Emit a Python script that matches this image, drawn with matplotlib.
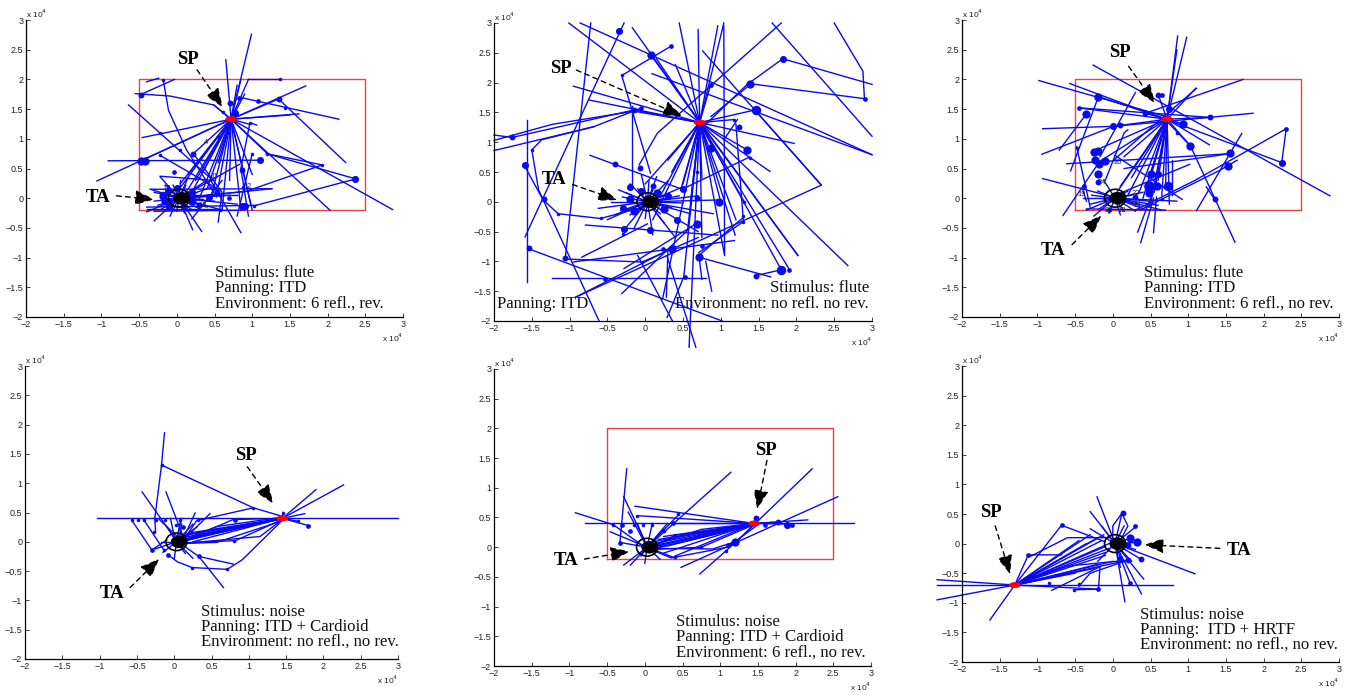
import matplotlib
matplotlib.use('Agg')
import matplotlib.pyplot as plt
from matplotlib.patches import Ellipse

plt.rcParams['font.family'] = ['Liberation Sans', 'DejaVu Sans']

# all coordinates in units of 10^4
tick_vals = [-2, -1.5, -1, -0.5, 0, 0.5, 1, 1.5, 2, 2.5, 3]
tick_labels = ['\u22122', '\u22121.5', '\u22121', '\u22120.5', '0', '0.5', '1', '1.5', '2', '2.5', '3']
room_x = [-0.5, 2.5, 2.5, -0.5, -0.5]
room_y = [-0.2, -0.2, 2.0, 2.0, -0.2]

# panel 1: flute, ITD, 6 refl., rev.
p1_sp = (0.72, 1.33)
p1_sp_rays = [(0.99, 2.76), (0.65, 2.33), (0.95, 2.0), (0.85, 2.0), (0.8, 1.9), (1.71, 1.89), (1.35, 1.67),
              (2.86, -0.19), (2.03, -0.2), (-1.06, 0.29), (-0.46, 1.02), (0.49, 1.57), (0.0, 0.1), (0.05, 0.25),
              (0.1, 0.05), (0.15, 0.4), (0.2, 0.1), (0.25, 0.3), (0.3, 0.0), (0.35, 0.45), (0.4, 0.15), (0.45, 0.0),
              (0.55, 0.2), (0.6, -0.2), (0.7, 0.3), (0.85, -0.2), (0.98, -0.1), (0.55, 0.6), (1.0, 0.4), (1.0, -0.2),
              (0.95, 1.25), (1.5, 1.4), (1.62, 1.42), (1.2, 0.75), (0.22, 0.75), (-0.47, 0.63), (0.9, 1.75)]
p1_ta_rays = [(1.26, 0.16), (0.83, 0.57), (-0.3, -0.38), (0.21, -0.53), (0.33, -0.56), (-0.4, -0.23), (-0.22, 0.36),
              (-0.35, 0.15), (-0.09, -0.3), (0.1, -0.25), (0.6, -0.2), (0.5, 0.2), (0.4, 0.3), (-0.2, -0.18),
              (-0.15, 0.22), (0.05, 0.3), (0.7, 0.05), (0.95, 0.12), (-0.1, 0.14), (0.25, 0.18), (0.5, -0.05),
              (-0.25, -0.12), (0.3, -0.18), (0.15, 0.35), (0.8, -0.1), (-0.18, 0.1), (-0.2, 0.0), (-0.18, -0.08),
              (-0.12, -0.2), (0.0, -0.22), (0.2, -0.2), (0.25, 0.08), (0.35, -0.02), (0.12, 0.22), (-0.05, 0.22),
              (-0.3, 0.1), (-0.3, -0.05), (0.4, -0.15), (0.55, 0.05)]
p1_paths = [[(-0.91, 0.63), (1.1, 0.64)], [(-0.64, 1.57), (0.48, 0.3)], [(0.45, 0.3), (0.85, -0.58)],
            [(-0.55, 1.76), (-0.09, 1.72), (0.49, 1.57), (0.72, 1.33)], [(-0.4, 1.96), (-0.24, 2.02)],
            [(-0.03, 2.0), (-0.49, 1.74)], [(-0.18, 1.99), (-0.11, 1.48), (0.13, 0.81), (0.53, 0.02)],
            [(1.02, -0.13), (2.36, 0.32)], [(1.93, 0.56), (1.19, 0.75)], [(1.93, 0.56), (0.95, 0.13)],
            [(2.36, 0.33), (1.19, 0.75)], [(0.95, 2.0), (1.38, 2.0)], [(1.44, 1.53), (2.15, 1.33)],
            [(0.83, 1.7), (1.44, 1.53)], [(1.35, 1.67), (2.24, 0.6)], [(0.97, 1.27), (1.06, 1.23)],
            [(0.97, 1.27), (0.85, 0.5), (0.95, -0.3)], [(0.22, 0.75), (0.6, 0.1), (0.55, -0.4)],
            [(-0.22, 0.72), (0.55, 0.15)], [(1.0, 0.75), (0.8, -0.3)], [(0.2, -0.35), (0.6, 0.3)],
            [(-0.22, 0.37), (0.49, 0.3)], [(-0.35, 0.15), (1.26, 0.16)], [(-0.4, -0.15), (1.06, -0.12)],
            [(-0.4, -0.18), (0.6, -0.18)], [(-0.3, -0.22), (0.9, -0.2)], [(-0.2, 0.05), (0.8, 0.05)]]
p1_dots = [(-0.47, 0.63, 7), (-0.42, 0.63, 7), (1.1, 0.64, 6), (2.36, 0.33, 6), (1.35, 1.67, 5), (1.08, 1.63, 4),
           (0.71, 1.61, 5), (0.82, 1.68, 4), (0.77, 1.44, 6), (-0.47, 1.74, 5), (-0.18, 1.99, 3), (-0.22, 1.1, 3),
           (0.22, 0.75, 5), (0.87, 0.48, 5), (1.93, 0.56, 3), (1.37, 2.0, 3), (1.19, 0.74, 3), (1.44, 1.52, 3),
           (0.97, 1.27, 3), (0.55, 1.03, 3), (0.86, -0.13, 6), (0.91, -0.13, 6), (1.02, -0.13, 3), (0.57, -0.2, 3),
           (0.43, 0.02, 6), (0.69, 0.01, 4), (0.53, 0.11, 5), (-0.04, 0.44, 4), (-0.22, 0.72, 3), (0.04, 0.81, 3),
           (1.0, 0.75, 3), (0.88, 0.19, 3), (0.61, 1.45, 3), (-0.15, -0.05, 7), (-0.12, 0.12, 6), (0.2, 0.1, 6),
           (0.1, -0.15, 6), (-0.1, -0.15, 6), (0.3, -0.12, 5), (-0.18, 0.03, 7), (0.2, -0.05, 7), (0.0, 0.18, 6)]
p1_nums = [(-0.13, 0.16, '17'), (0.5, 0.36, '11'), (0.96, 0.19, '2'), (0.39, 0.93, '4'), (0.35, -0.13, '18')]

# panel 2: flute, ITD, no refl. no rev.
p2_sp = (0.72, 1.33)
p2_sp_rays = [(-1.01, 3.0), (-0.17, 2.92), (0.45, 3.0), (0.70, 2.89), (0.96, 2.95), (1.04, 3.0), (-0.95, 1.94),
              (-0.75, 1.71), (1.97, 0.98), (1.65, 0.51), (2.02, -0.9), (2.68, -1.07), (1.91, -1.14), (1.8, -1.14),
              (1.19, -0.56), (1.31, 0.0), (1.18, 1.38), (0.58, -2.44), (0.51, -1.26), (0.23, -1.63), (0.87, 1.98),
              (0.56, -0.48), (0.0, 0.3), (0.2, 0.1), (0.35, 0.5), (0.47, 0.2), (0.6, 0.0), (0.75, 0.4), (0.75, -0.6),
              (1.0, 0.0), (0.9, 0.9), (0.1, -0.3), (1.05, -0.9), (0.15, 2.4), (0.4, 2.3), (1.35, 0.87),
              (-0.15, 1.54), (0.3, 0.7), (0.5, 0.3), (0.65, 0.5), (1.2, -0.3)]
p2_ta_rays = [(-0.62, -0.11), (-0.5, -0.3), (-0.35, 0.2), (-0.2, 0.3), (-0.3, -0.5), (-0.15, -0.45), (0.1, -0.55),
              (0.3, 0.35), (0.5, 0.25), (0.7, -0.5), (0.95, 0.03), (0.6, -0.2), (0.45, 0.1), (-0.45, 0.0),
              (0.05, 0.35), (0.25, -0.35), (0.7, 0.1), (0.4, -0.6), (-0.05, 0.45), (0.9, -0.2), (-0.3, 0.08),
              (-0.32, -0.15), (-0.2, -0.22), (-0.25, 0.15), (-0.1, 0.22), (0.12, 0.25), (0.3, 0.12), (0.35, -0.1),
              (0.2, -0.2), (0.0, -0.28), (-0.12, -0.18), (0.5, -0.02), (0.25, 0.05), (-0.4, -0.22), (0.15, 0.42)]
p2_paths = [[(-0.86, 3.0), (3.0, 0.79)], [(-0.72, 3.0), (-1.06, -0.98)], [(-0.28, 3.0), (-1.59, -0.59)],
            [(1.04, 2.95), (1.05, -0.87)], [(1.8, 3.0), (0.16, 1.15), (-0.08, 0.62)], [(1.68, 3.0), (3.0, 1.1)],
            [(2.5, 3.0), (2.88, 2.19), (2.9, 1.73), (1.4, 1.98), (0.87, 1.43)],
            [(3.0, 1.97), (1.82, 2.4), (1.35, 1.97), (0.72, 1.2)], [(0.76, 2.53), (2.33, 0.28), (-0.92, -1.6)],
            [(0.09, 2.15), (3.0, 0.79)], [(-0.31, 2.12), (0.34, 2.61)], [(-0.31, 2.12), (0.07, 0.48)],
            [(0.07, 2.47), (2.02, -0.9)], [(-2.0, 1.12), (-1.76, 1.08), (-0.15, 1.54)],
            [(-2.0, 0.86), (-0.68, 1.26), (-0.06, 1.57)], [(-2.0, 1.03), (-1.23, 1.3), (-0.15, 1.52), (0.72, 1.33)],
            [(-1.57, 1.37), (-1.57, -1.35)], [(-1.59, 0.59), (-1.35, 0.03), (-1.15, -0.2), (-0.59, -0.28), (0.0, -0.08)],
            [(-1.5, 0.87), (-1.37, 1.04), (-0.68, 1.26)], [(-1.5, 0.87), (-1.41, 0.2), (-0.61, -2.0)],
            [(-0.17, 1.6), (-0.17, 0.25)], [(-1.23, -1.28), (0.8, -1.28)], [(-1.54, -0.79), (1.02, -2.0)],
            [(-1.06, -0.96), (-0.04, -1.01), (0.7, -0.6)], [(1.66, -1.26), (0.71, -0.93)], [(1.8, -1.14), (1.46, -1.24)],
            [(2.33, 0.28), (1.45, 1.54), (0.72, 1.33)], [(1.38, 0.75), (0.47, 0.2)], [(1.22, 1.38), (1.04, 1.04)],
            [(1.31, -0.25), (0.71, -0.9)], [(1.29, -0.34), (0.71, -0.85)], [(-0.31, -1.54), (0.56, -0.48)],
            [(0.29, -1.94), (0.51, -1.26)], [(0.67, -2.44), (0.29, -0.92)], [(0.36, -2.0), (-0.1, -0.9)],
            [(-0.28, -1.12), (0.67, -0.37)], [(-0.84, -0.93), (0.03, -0.37)], [(-0.95, -1.01), (1.18, -0.65)],
            [(-0.79, -0.39), (0.96, -0.56)], [(-0.73, 0.78), (0.51, 0.2)], [(-0.92, -1.6), (0.4, -0.75)],
            [(0.71, -0.9), (0.75, -1.3)], [(0.3, -0.85), (0.28, -1.6)], [(0.8, -1.0), (0.88, -1.5)],
            [(1.2, 1.3), (1.3, -0.35)]]
p2_dots = [(-0.34, 2.87, 6), (0.08, 2.47, 7), (0.34, 2.61, 4), (1.82, 2.4, 6), (1.39, 1.97, 7), (0.87, 1.96, 4),
           (-0.31, 2.12, 3), (1.46, 1.54, 8), (-0.15, 1.54, 5), (-0.06, 1.57, 4), (-1.76, 1.08, 5), (2.91, 1.73, 4),
           (1.24, 1.26, 5), (1.18, 1.38, 3), (0.87, 0.9, 7), (1.35, 0.87, 7), (1.38, 0.74, 3), (-1.5, 0.87, 3),
           (-1.59, 0.61, 6), (-0.4, 0.63, 5), (-0.07, 0.57, 5), (-1.34, 0.04, 5), (-1.15, -0.2, 3), (-0.59, -0.27, 3),
           (-0.2, 0.25, 6), (0.1, 0.26, 5), (0.5, 0.22, 6), (0.68, 0.5, 3), (0.69, 0.06, 5), (0.97, 0.0, 7),
           (1.31, 0.0, 3), (1.3, -0.24, 3), (1.29, -0.34, 3), (0.68, -0.38, 7), (0.42, -0.3, 6), (0.07, -0.47, 6),
           (-0.28, -0.46, 6), (-0.3, -0.54, 3), (0.36, -0.8, 7), (0.71, -0.92, 7), (0.75, -0.75, 4), (-1.06, -0.95, 5),
           (-1.54, -0.78, 5), (-0.53, -1.29, 4), (0.52, -1.26, 4), (1.47, -1.24, 5), (1.8, -1.14, 8), (1.9, -1.14, 4),
           (-0.04, -1.01, 3), (0.24, -0.8, 4), (0.3, 0.1, 6), (-0.3, -0.1, 6), (-0.2, 0.05, 7), (-0.15, -0.15, 7),
           (0.25, -0.12, 7), (0.15, 0.15, 7), (-0.05, 0.18, 6)]
p2_nums = []

# panel 3: flute, ITD, 6 refl., no rev.
p3_sp = (0.72, 1.33)
p3_sp_rays = [(0.86, 2.73), (0.98, 2.71), (0.85, 2.5), (1.1, 1.85), (0.0, 0.0), (0.1, 0.2), (0.2, 0.05), (0.25, 0.35),
              (0.35, 0.1), (0.4, 0.0), (0.45, 0.2), (0.5, -0.1), (0.5, 0.35), (0.55, 0.1), (0.6, 0.3), (0.65, 0.05),
              (0.7, 0.2), (0.75, -0.1), (0.3, 0.55), (0.15, 0.7), (-0.2, 0.6), (-0.15, 0.85), (1.03, 0.88), (1.28, 0.9),
              (0.93, 1.25), (1.29, 1.36), (0.43, 1.43), (0.01, 1.21), (-0.45, 1.52), (-0.19, 1.71), (0.6, 1.75)]
p3_ta_rays = [(-0.35, -0.2), (-0.25, -0.3), (-0.4, 0.0), (-0.05, -0.25), (0.15, -0.22), (0.3, -0.22), (0.45, -0.2),
              (0.4, 0.1), (0.2, 0.12), (-0.2, 0.12), (-0.12, 0.3), (0.5, -0.05), (0.65, -0.2), (0.85, -0.05),
              (-0.3, -0.1), (-0.18, -0.18), (0.1, -0.28), (0.35, -0.12), (0.25, 0.05), (-0.28, 0.05), (0.6, -0.12)]
p3_paths = [[(-0.26, 2.24), (2.88, 0.04)], [(-0.98, 1.98), (0.72, 1.37)], [(-0.57, 1.93), (2.24, 0.6), (2.3, 1.17), (1.09, 0.3), (0.3, -0.2)],
            [(1.73, 2.0), (0.43, 1.43)], [(1.11, 1.85), (0.01, 0.64)], [(0.3, 1.78), (-0.17, 0.7)],
            [(1.86, 1.43), (0.01, 1.21), (-0.93, 1.17)], [(-0.94, 0.74), (0.01, 1.21)], [(-0.71, 0.81), (-0.35, 1.42)],
            [(-0.43, 1.52), (1.29, 1.36)], [(-0.19, 1.71), (-0.56, 0.46)], [(-0.61, 0.58), (1.56, 0.75)],
            [(1.71, 1.09), (1.11, -0.21)], [(1.65, 0.64), (1.42, 0.47), (0.36, -0.2)], [(1.62, -0.74), (1.03, 0.88), (0.72, 1.29)],
            [(0.92, -0.02), (0.03, 0.72)], [(1.02, 0.57), (-0.12, -0.03)], [(-0.93, 0.33), (0.01, 0.02)],
            [(-0.66, -0.29), (-0.19, 0.59)], [(-0.48, 0.87), (-0.3, -0.15)], [(0.37, -0.75), (0.54, 0.0)],
            [(0.33, -0.57), (0.5, 0.0)], [(0.54, -0.58), (0.58, 0.02)], [(1.35, -0.02), (1.24, 0.19)], [(0.78, 0.64), (0.78, 0.05)],
            [(-0.1, 0.3), (0.15, 1.1), (0.2, 1.15)], [(0.15, 0.5), (1.56, 0.75)], [(-0.35, -0.18), (0.7, -0.2)],
            [(-0.4, 0.15), (-0.35, -0.05)]]
p3_dots = [(0.6, 1.74, 5), (0.65, 1.74, 4), (0.74, 1.5, 6), (-0.19, 1.71, 7), (-0.45, 1.52, 4), (-0.35, 1.42, 7),
           (0.43, 1.43, 5), (0.0, 1.22, 6), (0.1, 1.23, 5), (0.93, 1.25, 7), (1.03, 0.88, 7), (1.29, 1.36, 5),
           (2.3, 1.17, 4), (2.24, 0.6, 6), (1.56, 0.76, 7), (1.53, 0.55, 7), (-0.25, 0.78, 7), (-0.2, 0.8, 7),
           (-0.23, 0.65, 7), (-0.18, 0.58, 7), (-0.1, 0.62, 7), (-0.19, 0.4, 7), (-0.2, 0.27, 5), (-0.38, 0.2, 4),
           (-0.48, 0.85, 3), (0.5, 0.4, 7), (0.6, 0.4, 6), (0.48, 0.2, 9), (0.58, 0.2, 7), (0.73, 0.21, 8),
           (0.48, 0.08, 7), (1.35, -0.02, 5), (0.65, -0.02, 3), (0.85, 1.1, 3), (-0.05, -0.2, 4), (0.3, 0.02, 5)]
p3_nums = [(0.07, 0.6, '20'), (-0.15, 0.26, '24'), (-0.41, 0.06, '19'), (-0.05, -0.2, '28'), (0.12, -0.2, '12'),
           (0.3, 0.08, '22'), (0.33, -0.12, '21'), (0.5, -0.15, '4')]

# panel 4: noise, ITD + cardioid, no refl., no rev.
p4_sp = (1.45, 0.4)
p4_sp_rays = [(2.27, 0.97), (1.9, 0.89), (1.75, 0.48), (1.82, 0.27), (1.46, 0.5), (1.66, 0.35), (0.1, 0.02),
              (0.15, 0.08), (0.1, 0.1), (0.2, 0.05), (0.15, 0.12), (0.08, 0.0), (0.2, 0.15), (0.25, 0.0), (0.3, 0.1)]
p4_ta_rays = [(-0.18, 0.0), (0.25, 0.3), (0.15, -0.2), (0.25, -0.28), (0.0, -0.3), (-0.1, 0.26), (0.08, 0.33),
              (0.3, 0.25), (-0.25, -0.12), (-0.15, -0.18), (0.1, 0.4)]
p4_paths = [[(-1.03, 0.4), (3.0, 0.4)], [(-0.13, 1.86), (-0.17, 1.31), (-0.26, 0.4)], [(-0.17, 1.31), (1.06, 0.58), (1.46, 0.43)],
            [(-0.43, 0.85), (0.04, 0.0)], [(-0.11, 0.85), (0.12, 0.09)], [(0.28, 0.49), (0.08, -0.06)],
            [(0.48, 0.48), (0.1, 0.0)], [(0.66, -0.78), (0.33, -0.25), (0.05, 0.0)], [(-0.57, 0.37), (-0.3, -0.14), (-0.1, 0.03)],
            [(-0.41, 0.38), (-0.15, -0.12)], [(-0.25, 0.18), (-0.26, 0.4)], [(-0.08, -0.22), (0.04, -0.34), (0.24, -0.44), (0.71, -0.47), (0.91, -0.31), (1.46, 0.38)],
            [(0.33, -0.25), (0.79, -0.38)], [(0.1, -0.02), (0.3, 0.36), (1.06, 0.58)], [(0.1, 0.02), (0.57, 0.26), (1.45, 0.42)],
            [(0.1, 0.0), (0.79, 0.38), (1.45, 0.4)], [(0.1, -0.02), (0.82, 0.02), (1.45, 0.38)], [(0.1, -0.03), (1.15, 0.09), (1.45, 0.38)],
            [(0.1, -0.03), (0.57, -0.01), (1.45, 0.36)], [(0.1, 0.0), (0.7, 0.2), (1.45, 0.39)], [(0.1, 0.02), (0.5, 0.16), (1.45, 0.41)],
            [(-0.2, 0.38), (0.05, 0.08)], [(-0.05, 0.4), (0.0, 0.1)], [(0.1, 0.3), (0.05, -0.1)]]
p4_dots = [(-0.57, 0.37, 3), (-0.48, 0.38, 3), (-0.41, 0.38, 3), (-0.25, 0.38, 3), (-0.13, 0.38, 3), (0.08, 0.37, 3),
           (0.32, 0.38, 3), (0.82, 0.38, 4), (1.66, 0.36, 3), (1.8, 0.27, 4), (-0.27, 0.17, 3), (-0.3, -0.14, 4),
           (-0.14, -0.14, 3), (-0.08, -0.22, 4), (0.33, -0.25, 4), (0.24, -0.44, 3), (0.71, -0.47, 3), (1.06, 0.58, 3),
           (1.46, 0.5, 3), (-0.17, 1.31, 3), (0.12, 0.25, 4), (0.03, 0.29, 3), (0.8, 0.02, 3)]
p4_nums = []

# panel 5: noise, ITD + cardioid, 6 refl., no rev.
p5_sp = (1.45, 0.4)
p5_sp_rays = [(2.16, 0.46), (-0.13, 0.69), (1.75, 0.42), (1.9, 0.39), (-0.08, 0.53), (0.42, 0.4), (1.48, 0.5),
              (0.1, 0.02), (0.12, 0.06), (0.15, 0.1), (0.2, 0.03), (0.18, 0.13), (0.1, 0.0), (0.25, 0.18), (0.12, -0.03),
              (0.3, 0.02), (0.25, -0.1), (0.4, -0.15)]
p5_ta_rays = [(-0.46, 0.26), (-0.22, 0.59), (-0.28, -0.3), (-0.19, -0.3), (0.0, -0.27), (0.3, 0.4), (0.1, 0.4),
              (-0.1, 0.4), (-0.33, 0.08), (0.45, 0.55), (1.14, 1.26), (-0.05, -0.15), (0.2, -0.2), (0.4, -0.18), (0.25, 0.3)]
p5_paths = [[(-0.79, 0.4), (2.77, 0.4)], [(-0.24, 1.32), (-0.33, 0.08)], [(2.22, 1.32), (1.22, 0.1), (0.73, -0.45)],
            [(2.56, 0.85), (1.77, 0.4), (0.48, -0.34)], [(-0.92, 0.58), (-0.42, 0.38), (-0.02, 0.02)], [(-0.28, 0.85), (0.03, 0.02)],
            [(1.45, 0.38), (1.22, 0.1), (0.9, -0.03), (0.1, -0.02)], [(1.5, 0.38), (1.1, 0.0), (0.35, -0.18), (0.1, -0.05)],
            [(1.45, 0.38), (0.75, 0.0), (0.1, -0.04)], [(1.45, 0.4), (0.75, 0.3), (0.1, 0.03)], [(1.45, 0.38), (0.4, 0.2), (0.1, 0.0)],
            [(1.45, 0.37), (0.55, 0.1), (0.1, -0.02)]]
p5_dots = [(-0.42, 0.38, 3), (-0.3, 0.38, 4), (-0.14, 0.38, 3), (-0.1, 0.52, 3), (-0.02, 0.38, 3), (0.1, 0.38, 3),
           (0.37, 0.4, 4), (0.44, 0.56, 3), (-0.2, 0.28, 4), (-0.33, 0.07, 4), (0.25, 0.28, 3), (0.4, 0.2, 3),
           (1.2, 0.09, 7), (1.1, 0.03, 4), (1.08, -0.06, 3), (1.77, 0.42, 5), (1.88, 0.38, 6), (1.95, 0.38, 4),
           (1.48, 0.49, 5), (1.6, 0.37, 4), (0.75, 0.0, 3), (0.4, -0.17, 3)]
p5_nums = []

# panel 6: noise, ITD + HRTF, no refl., no rev.
p6_sp = (-1.3, -0.7)
p6_sp_rays = [(-2.33, -0.61), (-2.33, -0.95), (-1.63, -1.29), (-0.68, 0.31), (-0.19, -0.77), (-0.1, -0.05), (-0.05, 0.0),
              (-0.15, 0.05), (-0.2, 0.1), (-0.05, -0.08), (-0.1, -0.15), (-0.12, 0.15), (-0.1, -0.2), (-0.3, 0.15),
              (-0.2, -0.35), (0.0, -0.3), (0.2, -0.28), (-0.25, -0.42), (-0.5, -0.5), (-0.45, 0.05), (-0.35, 0.0)]
p6_ta_rays = [(-0.21, 0.79), (-0.3, 0.54), (0.12, 0.51), (0.32, 0.3), (0.23, 0.09), (0.32, 0.02), (0.37, -0.26),
              (1.09, -0.51), (0.41, -0.6), (0.16, -0.98), (0.38, -0.85), (0.23, -0.67), (-0.15, 0.3), (0.25, -0.3),
              (0.15, 0.3), (0.3, -0.1), (0.1, -0.4), (-0.3, 0.25), (-0.2, -0.3)]
p6_paths = [[(-2.33, -0.7), (0.8, -0.7)], [(-1.3, -0.7), (-1.12, -0.19), (-0.68, -0.19)], [(-0.68, 0.31), (-0.1, 0.03)],
            [(-0.81, -0.79), (-0.17, -0.39)], [(-0.52, -0.78), (-0.19, -0.77), (-0.17, -0.39)], [(-1.1, -0.22), (-0.6, 0.1), (-0.05, 0.1)],
            [(0.12, 0.51), (0.0, 0.3), (0.0, 0.05)], [(0.12, 0.51), (0.2, 0.3), (0.1, 0.05)], [(-0.45, -0.72), (-0.3, -0.5), (0.2, -0.28)],
            [(-1.2, -0.62), (-0.6, -0.38), (0.2, -0.28)]]
p6_dots = [(-0.68, 0.31, 4), (0.13, 0.51, 5), (0.3, 0.29, 4), (0.23, 0.1, 7), (0.32, 0.02, 7), (0.2, -0.02, 5),
           (0.37, -0.26, 5), (0.2, -0.28, 5), (0.23, -0.67, 4), (-1.12, -0.19, 4), (-0.19, -0.77, 4), (-0.52, -0.78, 3),
           (-0.45, -0.68, 3), (-0.84, -0.67, 3), (0.1, -0.25, 4)]
p6_nums = []

# text baselines
titles = [
    [(0.51, -1.33, 'Stimulus: flute'), (0.51, -1.58, 'Panning: ITD'), (0.51, -1.84, 'Environment: 6 refl., rev.')],
    [(1.65, -1.52, 'Stimulus: flute'), (-1.96, -1.79, 'Panning: ITD'), (0.40, -1.79, 'Environment: no refl. no rev.')],
    [(0.41, -1.33, 'Stimulus: flute'), (0.41, -1.58, 'Panning: ITD'), (0.41, -1.84, 'Environment: 6 refl., no rev.')],
    [(0.36, -1.26, 'Stimulus: noise'), (0.36, -1.52, 'Panning: ITD + Cardioid'), (0.36, -1.78, 'Environment: no refl., no rev.')],
    [(0.41, -1.33, 'Stimulus: noise'), (0.41, -1.58, 'Panning: ITD + Cardioid'), (0.41, -1.85, 'Environment: 6 refl., no rev.')],
    [(0.36, -1.28, 'Stimulus: noise'), (0.36, -1.53, 'Panning:  ITD + HRTF'), (0.36, -1.78, 'Environment: no refl., no rev.')],
]
# label centre, arrow tail, arrow tip
sp_marks = [((0.15, 2.33), (0.27, 2.16), (0.61, 1.53)), ((-1.12, 2.24), (-0.91, 2.21), (0.49, 1.44)),
            ((0.10, 2.45), (0.21, 2.22), (0.56, 1.6)), ((0.96, 1.48), (0.98, 1.28), (1.33, 0.65)),
            ((1.6, 1.62), (1.62, 1.46), (1.49, 0.64)), ((-1.62, 0.53), (-1.56, 0.3), (-1.36, -0.52))]
ta_marks = [((-1.04, 0.02), (-0.8, 0.04), (-0.3, -0.02)), ((-1.2, 0.38), (-0.96, 0.29), (-0.37, 0.03)),
            ((-0.79, -0.88), (-0.54, -0.78), (-0.15, -0.29)), ((-0.83, -0.89), (-0.59, -0.78), (-0.2, -0.29)),
            ((-1.04, -0.22), (-0.8, -0.2), (-0.2, -0.07)), ((1.68, -0.11), (1.42, -0.08), (0.42, -0.02))]
has_room = [True, False, True, False, True, False]

# axes boxes in pixels: left, right, top, bottom
boxes = [(26, 403, 20, 317), (494, 872, 23, 321), (962, 1339, 20, 317),
         (25, 398, 366, 659), (494, 871, 369, 666), (962, 1339, 366, 662)]

panels = [(p1_sp, p1_sp_rays, p1_ta_rays, p1_paths, p1_dots, p1_nums),
          (p2_sp, p2_sp_rays, p2_ta_rays, p2_paths, p2_dots, p2_nums),
          (p3_sp, p3_sp_rays, p3_ta_rays, p3_paths, p3_dots, p3_nums),
          (p4_sp, p4_sp_rays, p4_ta_rays, p4_paths, p4_dots, p4_nums),
          (p5_sp, p5_sp_rays, p5_ta_rays, p5_paths, p5_dots, p5_nums),
          (p6_sp, p6_sp_rays, p6_ta_rays, p6_paths, p6_dots, p6_nums)]

W, H = 1356, 695
BLUE = '#0a0aee'
fig = plt.figure(figsize=(W / 100, H / 100), dpi=100)

for i, (sp, sp_rays, ta_rays, paths, dots, nums) in enumerate(panels):
    l, r, t, b = boxes[i]
    ax = fig.add_axes([l / W, 1 - b / H, (r - l) / W, (b - t) / H])
    ax.set_xlim(-2, 3)
    ax.set_ylim(-2, 3)
    for side in ['top', 'right']:
        ax.spines[side].set_visible(False)
    for side in ['left', 'bottom']:
        ax.spines[side].set_linewidth(0.9)
    ax.set_xticks(tick_vals, tick_labels)
    ax.set_yticks(tick_vals, tick_labels)
    ax.tick_params(direction='in', length=3, width=0.6, labelsize=6.5, pad=2, colors='#222222')

    if has_room[i]:
        ax.plot(room_x, room_y, color='#f04040', lw=1.0, zorder=1)

    for e in sp_rays:
        ax.plot([sp[0], e[0]], [sp[1], e[1]], color=BLUE, lw=1.0, clip_on=False, zorder=2)
    for e in ta_rays:
        ax.plot([0.03, e[0]], [0.0, e[1]], color=BLUE, lw=1.0, clip_on=False, zorder=2)
    for path in paths:
        ax.plot([p[0] for p in path], [p[1] for p in path], color=BLUE, lw=1.0, clip_on=False, zorder=2)
    for x, y, ms in dots:
        ax.plot([x], [y], 'o', color=BLUE, ms=ms * 0.85, mew=0, zorder=3)

    # black gaze blob on the target, red blob on the sound position
    ax.add_patch(Ellipse((0.03, 0.0), 0.28, 0.3, fill=False, ec='black', lw=1.2, zorder=4))
    ax.add_patch(Ellipse((0.06, 0.0), 0.2, 0.2, fc='black', ec='black', lw=0.5, zorder=4))
    ax.add_patch(Ellipse(sp, 0.14, 0.08, fc='red', ec='red', lw=0.8, zorder=5))

    for x, y, s in nums:
        ax.text(x, y, s, fontsize=5.5, color='#222222', ha='center', va='center', zorder=4)

    for x, y, s in titles[i]:
        ax.text(x, y, s, family=['Liberation Serif'], fontsize=12.1, color='#111111', va='baseline', ha='left', zorder=6)

    for name, (c, tail, tip) in zip(['SP', 'TA'], [sp_marks[i], ta_marks[i]]):
        ax.text(c[0], c[1], name, family=['Liberation Serif'], fontweight='bold', fontsize=13.5,
                ha='center', va='center', zorder=6)
        ax.annotate('', xy=tip, xytext=tail, zorder=6,
                    arrowprops=dict(arrowstyle='-|>,head_length=0.9,head_width=0.35', color='black',
                                    lw=1.0, linestyle=(0, (3.5, 3)), shrinkA=0, shrinkB=0, mutation_scale=13))

    ax.text(0.0, 1.0, 'x 10$^4$', transform=ax.transAxes, fontsize=6, ha='left', va='bottom', color='#222222')
    ax.text(1.0, -0.05, 'x 10$^4$', transform=ax.transAxes, fontsize=6, ha='right', va='top', color='#222222')

plt.savefig('out.png', dpi=100)
